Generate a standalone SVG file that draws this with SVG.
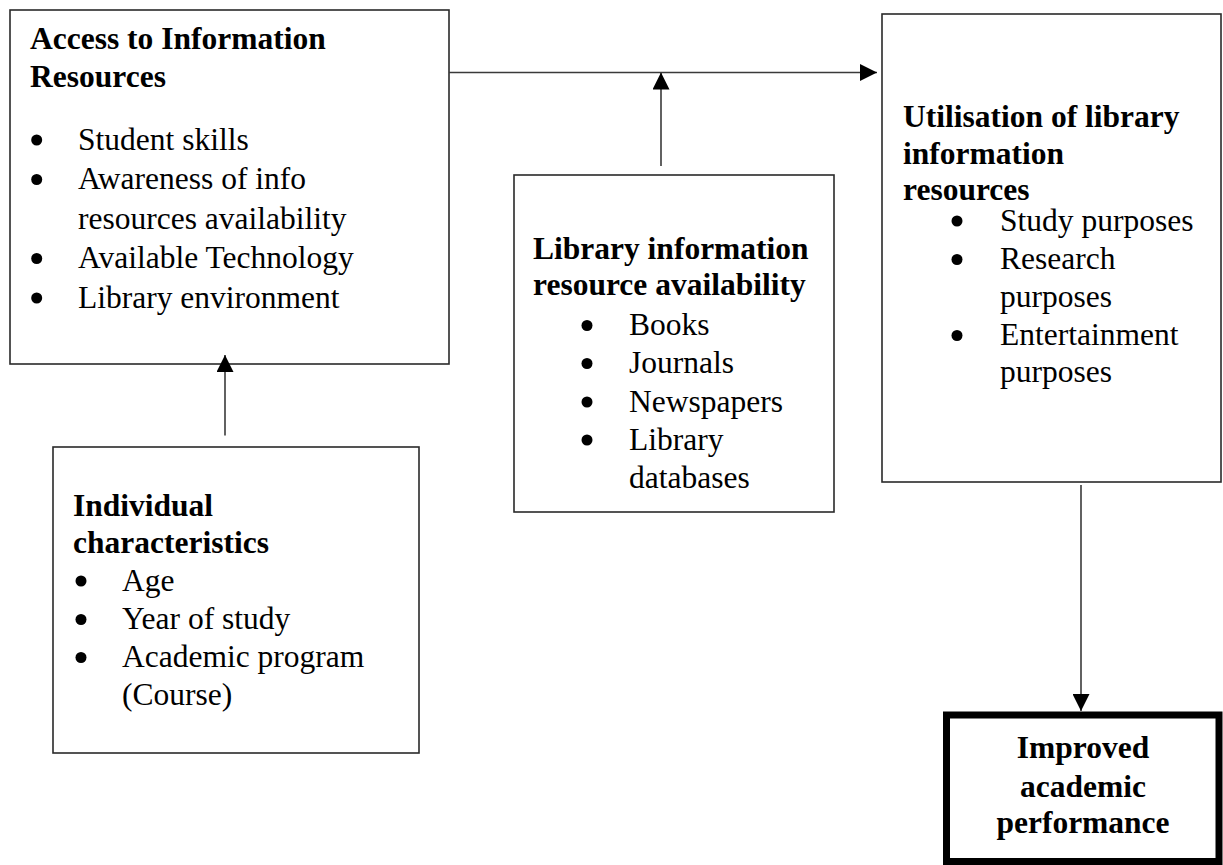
<svg xmlns="http://www.w3.org/2000/svg" width="1223" height="865" viewBox="0 0 1223 865">
<style>
text{font-family:"Liberation Serif","Times New Roman",serif;font-size:31.5px;fill:#000}
.b{font-weight:bold}
.box{fill:#fff;stroke:#2a2a2a;stroke-width:1.6}
.thick{fill:#fff;stroke:#000;stroke-width:7}
.con{stroke:#3a3a3a;stroke-width:1.6;fill:none}
.dot{fill:#000}
</style>
<defs>
<marker id="ah" markerUnits="userSpaceOnUse" markerWidth="17" markerHeight="17" refX="17" refY="8.5" orient="auto">
<path d="M0,0 L17,8.5 L0,17 z" fill="#000"/>
</marker>
</defs>
<rect width="1223" height="865" fill="#fff"/>
<g id="access">
<rect class="box" x="10" y="10" width="439" height="354"/>
<text class="b" x="30" y="49">Access to Information</text>
<text class="b" x="30" y="87">Resources</text>
<circle class="dot" cx="36.7" cy="140" r="5.5"/><text x="78" y="149.5">Student skills</text>
<circle class="dot" cx="36.7" cy="179.5" r="5.5"/><text x="78" y="189">Awareness of info</text>
<text x="78" y="228.5">resources availability</text>
<circle class="dot" cx="36.7" cy="258.5" r="5.5"/><text x="78" y="268">Available Technology</text>
<circle class="dot" cx="36.7" cy="298" r="5.5"/><text x="78" y="307.5">Library environment</text>
</g>
<g id="library">
<rect class="box" x="514" y="175" width="320" height="337"/>
<text class="b" x="533" y="259">Library information</text>
<text class="b" x="533" y="295">resource availability</text>
<circle class="dot" cx="587" cy="325.5" r="5.5"/><text x="629" y="335">Books</text>
<circle class="dot" cx="587" cy="363.5" r="5.5"/><text x="629" y="373">Journals</text>
<circle class="dot" cx="587" cy="402" r="5.5"/><text x="629" y="411.5">Newspapers</text>
<circle class="dot" cx="587" cy="440" r="5.5"/><text x="629" y="449.5">Library</text>
<text x="629" y="488">databases</text>
</g>
<g id="utilisation">
<rect class="box" x="882" y="14" width="339" height="468"/>
<text class="b" x="903" y="127">Utilisation of library</text>
<text class="b" x="903" y="164">information</text>
<text class="b" x="903" y="200">resources</text>
<circle class="dot" cx="957" cy="221" r="5.5"/><text x="1000" y="230.5">Study purposes</text>
<circle class="dot" cx="957" cy="259.5" r="5.5"/><text x="1000" y="269">Research</text>
<text x="1000" y="307">purposes</text>
<circle class="dot" cx="957" cy="335.5" r="5.5"/><text x="1000" y="345">Entertainment</text>
<text x="1000" y="382">purposes</text>
</g>
<g id="individual">
<rect class="box" x="53" y="447" width="366" height="306"/>
<text class="b" x="73" y="516">Individual</text>
<text class="b" x="73" y="553">characteristics</text>
<circle class="dot" cx="81" cy="581" r="5.5"/><text x="122" y="590.5">Age</text>
<circle class="dot" cx="81" cy="619.5" r="5.5"/><text x="122" y="629">Year of study</text>
<circle class="dot" cx="81" cy="657.5" r="5.5"/><text x="122" y="667">Academic program</text>
<text x="122" y="705">(Course)</text>
</g>
<g id="performance">
<rect class="thick" x="946.5" y="715" width="272.5" height="146.5"/>
<text class="b" x="1083" y="758" text-anchor="middle">Improved</text>
<text class="b" x="1083" y="796.5" text-anchor="middle">academic</text>
<text class="b" x="1083" y="833" text-anchor="middle">performance</text>
</g>
<g id="connectors">
<line class="con" x1="449" y1="72.5" x2="877" y2="72.5" marker-end="url(#ah)"/>
<line class="con" x1="661" y1="166" x2="661" y2="72.5" marker-end="url(#ah)"/>
<line class="con" x1="225" y1="435.5" x2="225" y2="355" marker-end="url(#ah)"/>
<line class="con" x1="1081" y1="485" x2="1081" y2="711" marker-end="url(#ah)"/>
</g>
</svg>
